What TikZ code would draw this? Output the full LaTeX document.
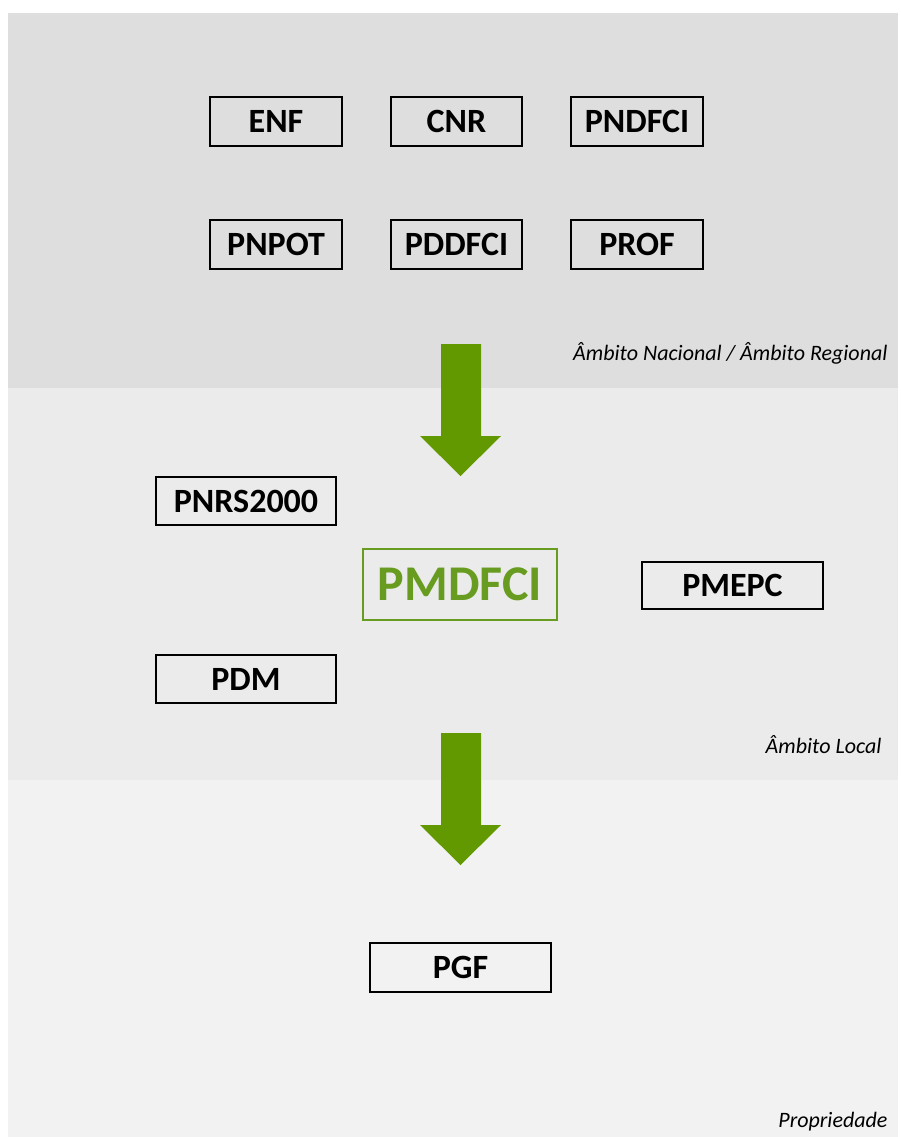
\documentclass[tikz,border=0pt]{standalone}
\usepackage{fontspec}
\setmainfont{Carlito}
\begin{document}
\begin{tikzpicture}[x=1pt,y=-1pt,
  box/.style={draw=black,line width=2.5pt,fill=none,inner sep=0pt,
    font=\fontsize{34}{36}\selectfont\bfseries,text=black},
  mainbox/.style={draw=mgreen,line width=2.5pt,inner sep=0pt,
    font=\fontsize{50}{52}\selectfont\bfseries,text=mgreen},
  scopelbl/.style={anchor=base east,font=\fontsize{22}{24}\selectfont\itshape,text=black},
  blockarrow/.style={fill=agreen,draw=none}]
\definecolor{mgreen}{RGB}{104,156,32}
\definecolor{agreen}{RGB}{98,152,0}
\definecolor{bandA}{RGB}{222,222,222}
\definecolor{bandB}{RGB}{235,235,235}
\definecolor{bandC}{RGB}{242,242,242}
\useasboundingbox (0,0) rectangle (901,1137);
\fill[white] (0,0) rectangle (901,1137);
% bands
\fill[bandA] (8,13) rectangle (898,388);
\fill[bandB] (8,388) rectangle (898,780);
\fill[bandC] (8,780) rectangle (898,1137);
% top boxes
\node[box,minimum width=132pt,minimum height=49pt] (enf) at (276,121.5) {ENF};
\node[box,minimum width=131pt,minimum height=49pt] (cnr) at (456.5,121.5) {CNR};
\node[box,minimum width=132pt,minimum height=49pt] (pndfci) at (637,121.5) {PNDFCI};
\node[box,minimum width=132pt,minimum height=49pt] (pnpot) at (276,244.5) {PNPOT};
\node[box,minimum width=131pt,minimum height=49pt] (pddfci) at (456.5,244.5) {PDDFCI};
\node[box,minimum width=132pt,minimum height=49pt] (prof) at (637,244.5) {PROF};
\node[scopelbl] (l1) at (891,360) {Âmbito Nacional / Âmbito Regional};
% arrow 1
\fill[blockarrow] (441,344) -- (481,344) -- (481,436) -- (501,436) -- (460.5,476)
  -- (420,436) -- (441,436) -- cycle;
% middle
\node[box,minimum width=180pt,minimum height=48pt] (pnrs) at (246,501) {PNRS2000};
\node[mainbox,minimum width=194pt,minimum height=71pt] (pmdfci) at (460,584.5) {PMDFCI};
\node[box,minimum width=181pt,minimum height=47pt] (pmepc) at (732.5,585.5) {PMEPC};
\node[box,minimum width=180pt,minimum height=48pt] (pdm) at (246,679) {PDM};
\node[scopelbl] (l2) at (885,753) {Âmbito Local};
% arrow 2
\fill[blockarrow] (441,733) -- (481,733) -- (481,825) -- (501,825) -- (460.5,865)
  -- (420,825) -- (441,825) -- cycle;
% bottom
\node[box,minimum width=181pt,minimum height=49pt] (pgf) at (460.5,967.5) {PGF};
\node[scopelbl] (l3) at (891,1127) {Propriedade};
\end{tikzpicture}
\end{document}
